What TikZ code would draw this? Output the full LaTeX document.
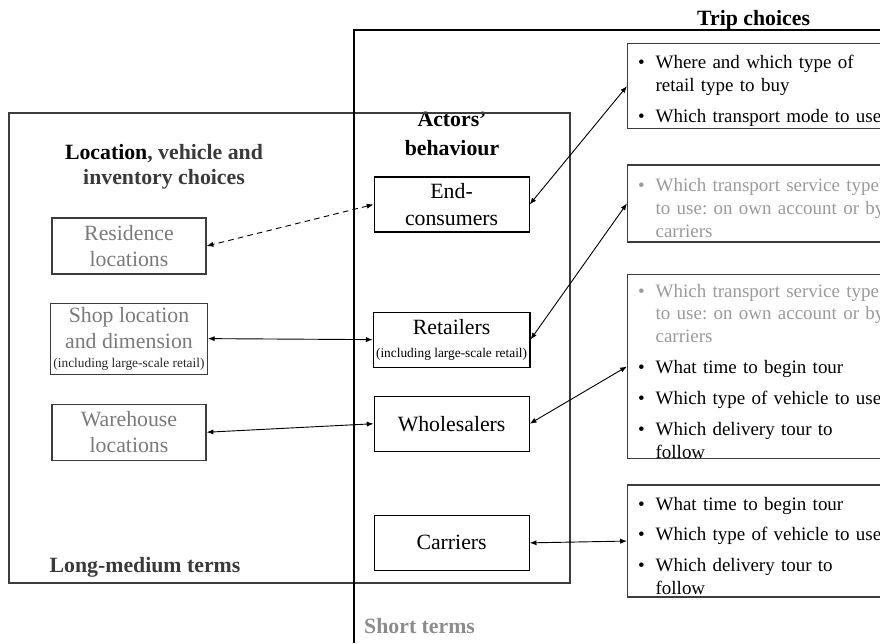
\documentclass[tikz,border=0pt]{standalone}
\usepackage{fontspec}
\setmainfont{Liberation Serif}
\usepackage{enumitem}
\usetikzlibrary{arrows.meta,positioning}
\definecolor{framegray}{HTML}{3C3C3C}
\definecolor{softgray}{HTML}{7A7A7A}
\definecolor{headgray}{HTML}{3A3A3A}
\definecolor{shortgray}{HTML}{8C8C8C}
\definecolor{fadegray}{HTML}{9A9A9A}
\setlist[itemize]{leftmargin=0.6cm,labelsep=0.27cm,itemsep=5.7pt,topsep=0pt,parsep=0pt,partopsep=0pt}
\frenchspacing

\begin{document}
\begin{tikzpicture}[
  font=\fontsize{15.5}{18.6}\selectfont,
  actor/.style={draw=black,line width=0.8pt,align=center,minimum width=3.875cm,minimum height=1.375cm,inner sep=2pt},
  loc/.style={draw=framegray,line width=0.8pt,align=center,text=softgray,minimum width=3.85cm,minimum height=1.4cm,inner sep=2pt},
  trip/.style={draw=framegray,line width=0.9pt,text width=7cm,inner xsep=0.1cm,inner ysep=0pt,anchor=north,font=\fontsize{13.5}{16.3}\selectfont},
  head/.style={font=\bfseries\fontsize{15.5}{17.7}\selectfont,align=center},
  arr/.style={{Latex[length=1.7mm,width=1.3mm]}-{Latex[length=1.7mm,width=1.3mm]},line width=0.65pt}
]
\clip (0,0) rectangle (22,16.075);

% headings
\node[head] (tripHead) at (18.84,15.575) {Trip choices};
\node[head] (actHead) at (11.3,12.725) {Actors'\\[3pt]behaviour};
\node[head,text=headgray] (locHead) at (4.1,11.9) {\textcolor{black}{Location}, vehicle and\\inventory choices};
\node[head,text=headgray] (longHead) at (3.625,1.9) {Long-medium terms};
\node[head,text=shortgray] (shortHead) at (10.49,0.425) {Short terms};

% frames
\draw[framegray,line width=1.3pt] (0.225,1.5) rectangle (14.25,13.25);
\draw[black,line width=1.2pt] (8.85,0) -- (8.85,15.325) -- (22.5,15.325);

% actors
\node[actor] (endc) at (11.29,10.9625) {End-\\consumers};
\node[actor,below=1.975cm of endc] (ret) {Retailers\\[-2pt]{\fontsize{9.5}{10}\selectfont(including large-scale retail)}};
\node[actor,below=0.7cm of ret] (whole) {Wholesalers};
\node[actor,below=1.575cm of whole] (carr) {Carriers};

% locations
\node[loc] (res) at (3.225,9.925) {Residence\\locations};
\node[loc,below=0.7cm of res,minimum height=1.775cm] (shop) {Shop location\\and dimension\\[-5pt]{\fontsize{9.5}{10}\selectfont\color{black!85}(including large-scale retail)}};
\node[loc,below=0.725cm of shop] (ware) {Warehouse\\locations};

% trip choices
\node[trip,anchor=north west,minimum height=2.125cm] (tbuy) at (15.675,15.0) {%
\begin{itemize}
\item Where and which type of\\ retail type to buy
\item Which transport mode to use
\end{itemize}};
\node[trip,below=0.875cm of tbuy,minimum height=1.925cm,text=fadegray] (tserv) {%
\begin{itemize}
\item Which transport service type\\ to use: on own account or by\\ carriers
\end{itemize}};
\node[trip,below=0.775cm of tserv,minimum height=4.55cm] (tfull) {%
\begin{itemize}
\item[\textcolor{fadegray}{\textbullet}] \textcolor{fadegray}{Which transport service type\\ to use: on own account or by\\ carriers}
\item What time to begin tour
\item Which type of vehicle to use
\item Which delivery tour to\\ follow
\end{itemize}};
\node[trip,below=0.625cm of tfull,minimum height=2.8cm] (ttour) {%
\begin{itemize}
\item What time to begin tour
\item Which type of vehicle to use
\item Which delivery tour to\\ follow
\end{itemize}};

% links
\draw[arr,dashed,dash pattern=on 4pt off 3pt] (endc.west) -- (res.east);
\draw[arr] (ret.west) -- (shop.east);
\draw[arr] (whole.west) -- (ware.east);
\draw[arr] (endc.east) -- (tbuy.west);
\draw[arr] (ret.east) -- (tserv.west);
\draw[arr] (whole.east) -- (tfull.west);
\draw[arr] (carr.east) -- (ttour.west);
\end{tikzpicture}
\end{document}
